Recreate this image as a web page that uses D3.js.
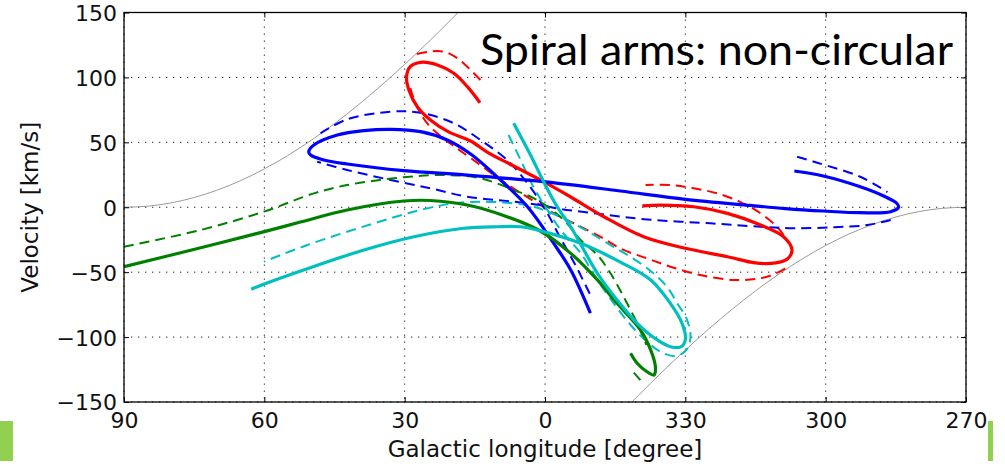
<!DOCTYPE html>
<html>
<head>
<meta charset="utf-8">
<script src="https://cdn.jsdelivr.net/npm/d3@7"></script>
<style>
  html, body { margin: 0; padding: 0; background: #ffffff; }
  svg { display: block; }
</style>
</head>
<body>
<svg id="chart" width="1005" height="466"></svg>
<script>
// Longitudes east of l = 0 are stored as l - 360 (e.g. 330 -> -30),
// so the axis runs continuously from 90 down to 270 (= -90).

// Axis ticks
const xTickValues = [90, 60, 30, 0, -30, -60, -90];
const xTickLabels = ["90", "60", "30", "0", "330", "300", "270"];
const yTickValues = [150, 100, 50, 0, -50, -100, -150];
const yTickLabels = ["150", "100", "50", "0", "\u221250", "\u2212100", "\u2212150"];

// Terminal-velocity envelope (thin grey curve)
const envLeftLon  = [90, 85, 80, 75, 70, 65, 60, 55, 50, 45, 40, 35, 30, 25, 20, 15];
const envLeftVel  = [0, 0.8, 3.3, 7.5, 13.3, 20.6, 29.5, 39.8, 51.5, 64.4, 78.6, 93.8, 110, 127, 144.8, 163.1];
const envRightLon = [-15, -20, -25, -30, -35, -40, -45, -50, -55, -60, -65, -70, -75, -80, -85, -90];
const envRightVel = [-163.1, -144.8, -127, -110, -93.8, -78.6, -64.4, -51.5, -39.8, -29.5, -20.6, -13.3, -7.5, -3.3, -0.8, 0];

// Spiral-arm tracks (null = gap in the track)
const redSolidLon = [13.9, 16.6, 19.5, 23.0, 26.6, 28.8, 29.6, 29.1, 27.3, 24.5, 20.6, 15.9, 12.1, 6.7, 0.3, -5.5, -12.6, -21.1, -30.0, -39.0, -45.0, -49.3, -51.8, -52.8, -51.0, -46.1, -39.0, -31.8, -24.7, -20.8];
const redSolidVel = [80.5, 92.9, 103.2, 109.6, 111.6, 108.3, 100.6, 90.3, 77.4, 67.2, 58.0, 51.0, 41.8, 31.8, 19.7, 7.9, -7.3, -22.7, -31.6, -38.1, -42.9, -42.9, -39.9, -32.9, -22.7, -13.7, -4.7, 0.4, 1.7, 1.0];

const redDashLon = [13.8, 15.9, 18.5, 21.3, 24.5, 28.3, null, 28.8, 28.1, 26.8, 24.9, 22.1, 18.9, 13.8, 9.5, 5.2, 1.0, -2.6, -6.9, -11.9, -16.8, -21.8, -26.8, -33.2, -40.4, -46.1, -49.6, -51.6, null, -51.0, -49.6, -46.1, -41.8, -36.8, -31.8, -26.8, -21.5];
const redDashVel = [98.0, 105.7, 114.2, 119.6, 120.0, 117.3, null, 91.9, 84.1, 73.4, 63.4, 54.1, 45.6, 32.5, 21.0, 11.0, 1.7, -6.0, -13.7, -22.9, -32.9, -39.3, -45.8, -52.2, -56.0, -54.7, -50.6, -46.8, null, -21.4, -15.0, -4.7, 4.0, 10.7, 14.6, 17.1, 17.1];

const blueSolidLon = [-53.3, -59.5, -67.4, -72.4, -75.1, -75.6, -73.9, -67.4, -59.5, -51.4, -43.9, -30.0, -16.1, 0.3, 16.6, 30.2, 42.3, 47.3, 50.1, 50.5, 49.4, 44.4, 38.7, 33.0, 26.6, 20.9, 15.9, 9.5, 3.7, -1.8, -5.5, -9.7];
const blueSolidVel = [27.9, 24.1, 15.8, 8.7, 3.3, 0.2, -3.4, -4.2, -2.9, -1.0, 1.4, 6.1, 12.5, 19.7, 24.8, 28.2, 33.3, 36.4, 40.2, 42.8, 47.9, 55.6, 59.0, 60.0, 58.2, 51.8, 41.0, 21.0, 0.2, -27.5, -48.3, -81.5];

const blueDashLon = [-53.9, -58.2, -67.4, -73.2, null, -73.9, -68.9, -61.7, -53.1, -46.1, -35.4, -21.8, -11.9, -3.3, 1.0, 6.7, 16.6, 24.5, 33.0, 42.3, 48.7, null, 48.0, 42.3, 33.0, 26.6, 19.5, 13.8, 8.1, 3.8, -0.1, -3.3, -6.5, -9.7];
const blueDashVel = [38.9, 34.3, 23.5, 11.7, null, -9.8, -13.7, -15.4, -16.2, -15.0, -12.4, -9.4, -5.2, -1.3, 1.7, 4.3, 8.1, 14.6, 21.0, 28.7, 35.1, null, 57.0, 67.7, 73.6, 72.8, 64.7, 51.8, 36.4, 18.7, -2.1, -23.7, -44.5, -67.6];

const greenSolidLon = [90, 75.1, 60.0, 52.3, 42.3, 30.2, 24.5, 16.6, 8.1, 1.0, -5.5, -11.2, -15.4, -20.4, -22.6, -23.6, -23.3, -21.8, -19.7, -18.3];
const greenSolidVel = [-45.8, -32.5, -18.8, -11.4, -2.1, 4.8, 5.2, 1.7, -7.3, -18.3, -35.5, -56.0, -74.0, -94.5, -110.0, -122.8, -129.2, -126.7, -120.2, -112.5];

const greenDashLon = [90, 73.6, 60.1, 49.4, 42.3, 30.2, 20.9, 13.8, 6.7, 1.7, -4.0, -7.6, -11.2, -14.0, -16.8, -19.7, -21.7, null, -20.4, -18.5];
const greenDashVel = [-30.4, -17.5, -3.4, 10.7, 17.1, 23.1, 24.8, 22.3, 13.3, 5.6, -9.8, -25.2, -36.8, -50.9, -68.9, -89.4, -106.1, null, -133.1, -125.4];

const cyanSolidLon = [6.7, 3.1, 0.3, -2.6, -5.5, -8.3, -11.2, -15.4, -19.7, -24.0, -26.8, -29.0, -30.0, -29.3, -26.8, -22.6, -16.1, -7.6, 0.3, 5.2, 10.2, 17.4, 28.0, 38.7, 51.6, 60.0, 62.8];
const cyanSolidVel = [64.7, 40.2, 19.7, 0.4, -15.0, -32.9, -50.9, -71.4, -89.4, -102.2, -107.4, -107.6, -102.2, -89.4, -74.0, -56.0, -42.2, -27.8, -18.8, -15.0, -15.0, -16.2, -22.7, -32.9, -48.3, -59.1, -63.2];

const cyanDashLon = [7.8, 5.2, 2.7, -0.5, -3.7, -7.6, -11.2, -14.7, -18.3, -22.6, -25.4, -28.1, -30.2, -31.1, -30.2, -28.5, -26.1, -22.6, -18.3, -14.0, -9.7, -5.5, -0.3, 3.1, 6.7, 13.8, 19.5, 26.6, 36.6, 50.8, 60.1];
const cyanDashVel = [55.6, 36.4, 17.1, -2.1, -19.1, -35.2, -56.0, -74.0, -90.7, -106.1, -112.5, -114.6, -110.0, -99.9, -85.3, -75.3, -61.4, -49.1, -38.3, -29.1, -19.8, -11.4, -2.9, 1.0, 3.0, 4.3, 3.0, -2.1, -12.4, -29.1, -41.9];

const titleText = "Spiral arms: non-circular";
const xLabel = "Galactic longitude [degree]";
const yLabel = "Velocity [km/s]";

// ---------------------------------------------------------------------------
const svg = d3.select("#chart");
const plot = { left: 124, right: 966, top: 12.5, bottom: 402 };

const x = d3.scaleLinear().domain([90, -90]).range([plot.left, plot.right]);
const y = d3.scaleLinear().domain([150, -150]).range([plot.top, plot.bottom]);

const zip = (lon, vel) => lon.map((l, i) => ({ l: l, v: vel[i] }));

svg.append("defs").append("clipPath").attr("id", "plotClip")
  .append("rect")
  .attr("x", plot.left).attr("y", plot.top)
  .attr("width", plot.right - plot.left).attr("height", plot.bottom - plot.top);

// Slide accent bars
svg.append("rect").attr("x", 0).attr("y", 421).attr("width", 13).attr("height", 40).attr("fill", "#92d050");
svg.append("rect").attr("x", 988).attr("y", 421).attr("width", 5).attr("height", 40).attr("fill", "#92d050");

// Dotted grid
const grid = svg.append("g").attr("stroke", "#222").attr("stroke-width", 1)
  .attr("stroke-dasharray", "1.3,5.7").attr("fill", "none");
xTickValues.forEach(d => {
  grid.append("line").attr("x1", x(d)).attr("x2", x(d)).attr("y1", plot.top).attr("y2", plot.bottom);
});
yTickValues.forEach(d => {
  grid.append("line").attr("x1", plot.left).attr("x2", plot.right).attr("y1", y(d)).attr("y2", y(d));
});

const curves = svg.append("g").attr("clip-path", "url(#plotClip)");

// Terminal-velocity envelope
const envLine = d3.line()
  .x(d => x(d.l)).y(d => y(d.v))
  .curve(d3.curveMonotoneX);
[zip(envLeftLon, envLeftVel), zip(envRightLon, envRightVel)].forEach(pts => {
  curves.append("path").datum(pts)
    .attr("d", envLine)
    .attr("fill", "none").attr("stroke", "#9a9a9a").attr("stroke-width", 1);
});

// Arm tracks
const track = d3.line()
  .defined(d => d.l !== null && d.v !== null)
  .x(d => x(d.l)).y(d => y(d.v))
  .curve(d3.curveCatmullRom.alpha(0.5));

const series = [
  { lon: redDashLon,   vel: redDashVel,   color: "#ff0000", dashed: true },
  { lon: blueDashLon,  vel: blueDashVel,  color: "#0000ff", dashed: true },
  { lon: greenDashLon, vel: greenDashVel, color: "#008000", dashed: true },
  { lon: cyanDashLon,  vel: cyanDashVel,  color: "#00bfbf", dashed: true },
  { lon: redSolidLon,  vel: redSolidVel,  color: "#ff0000", dashed: false },
  { lon: blueSolidLon, vel: blueSolidVel, color: "#0000ff", dashed: false },
  { lon: greenSolidLon,vel: greenSolidVel,color: "#008000", dashed: false },
  { lon: cyanSolidLon, vel: cyanSolidVel, color: "#00bfbf", dashed: false }
];

series.forEach(s => {
  curves.append("path").datum(zip(s.lon, s.vel))
    .attr("d", track)
    .attr("fill", "none")
    .attr("stroke", s.color)
    .attr("stroke-width", s.dashed ? 2 : 3.2)
    .attr("stroke-linecap", "butt")
    .attr("stroke-linejoin", "round")
    .attr("stroke-dasharray", s.dashed ? "10,6" : null);
});

// Axes with inward ticks on all four sides
const tickFont = "'DejaVu Sans', sans-serif";
const bottomAxis = d3.axisBottom(x).tickValues(xTickValues)
  .tickFormat((d, i) => xTickLabels[i]).tickSizeInner(-5).tickSizeOuter(0).tickPadding(10);
const topAxis = d3.axisTop(x).tickValues(xTickValues).tickFormat("").tickSizeInner(-5).tickSizeOuter(0);
const leftAxis = d3.axisLeft(y).tickValues(yTickValues)
  .tickFormat((d, i) => yTickLabels[i]).tickSizeInner(-5).tickSizeOuter(0).tickPadding(7);
const rightAxis = d3.axisRight(y).tickValues(yTickValues).tickFormat("").tickSizeInner(-5).tickSizeOuter(0);

function styleAxis(g) {
  g.select(".domain").remove();
  g.selectAll(".tick line").attr("stroke", "#000").attr("stroke-width", 1);
  g.selectAll("text").attr("fill", "#111").style("font-family", tickFont).style("font-size", "22px");
}

svg.append("g").attr("transform", `translate(0,${plot.bottom})`).call(bottomAxis).call(styleAxis)
  .selectAll("text").attr("dy", null).attr("y", 26);
svg.append("g").attr("transform", `translate(0,${plot.top})`).call(topAxis).call(styleAxis);
svg.append("g").attr("transform", `translate(${plot.left},0)`).call(leftAxis).call(styleAxis)
  .selectAll("text").attr("dy", "0.36em");
svg.append("g").attr("transform", `translate(${plot.right},0)`).call(rightAxis).call(styleAxis);

// Frame
svg.append("rect")
  .attr("x", plot.left).attr("y", plot.top)
  .attr("width", plot.right - plot.left).attr("height", plot.bottom - plot.top)
  .attr("fill", "none").attr("stroke", "#000").attr("stroke-width", 1.3);

// Axis labels
svg.append("text")
  .attr("x", (plot.left + plot.right) / 2).attr("y", 456.5)
  .attr("text-anchor", "middle")
  .style("font-family", tickFont).style("font-size", "23px").attr("fill", "#111")
  .text(xLabel);

svg.append("text")
  .attr("transform", `translate(38,${(plot.top + plot.bottom) / 2}) rotate(-90)`)
  .attr("text-anchor", "middle")
  .style("font-family", tickFont).style("font-size", "23px").attr("fill", "#111")
  .text(yLabel);

// Slide title inside the plot
svg.append("text")
  .attr("x", 480).attr("y", 65)
  .style("font-family", "Lato, 'Open Sans', sans-serif").style("font-size", "42px")
  .attr("fill", "#000")
  .attr("textLength", 473).attr("lengthAdjust", "spacingAndGlyphs")
  .text(titleText);
</script>
</body>
</html>
